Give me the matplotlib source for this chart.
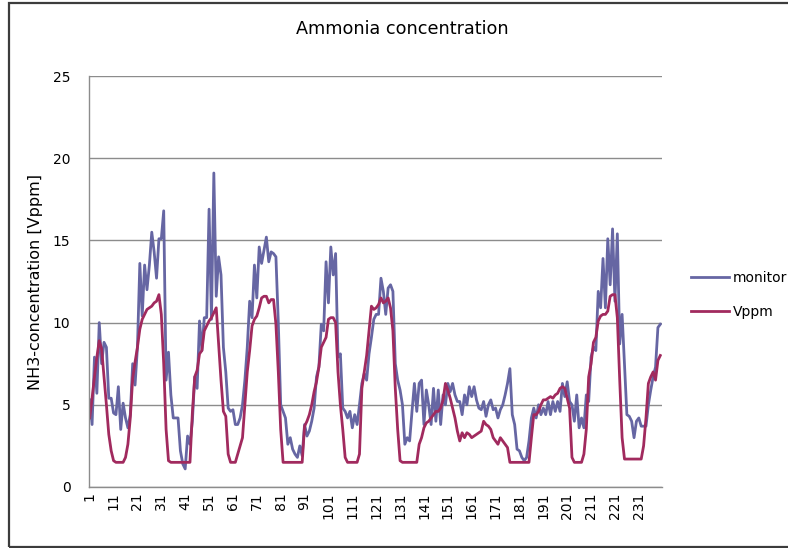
import numpy as np
import matplotlib.pyplot as plt
from matplotlib.patches import Rectangle

# hourly readings, 10 days
monitor = [
    5.3, 3.8, 7.9, 5.7, 10.0, 7.5, 8.8, 8.5, 5.4, 5.4,
    4.5, 4.4, 6.1, 3.5, 5.1, 4.2, 3.6, 4.4, 7.5, 6.2,
    8.5, 13.6, 10.4, 13.5, 12.0, 13.5, 15.5, 14.3, 12.7, 15.1,
    15.1, 16.8, 6.5, 8.2, 5.6, 4.2, 4.2, 4.2, 2.2, 1.4,
    1.1, 3.1, 2.6, 4.0, 6.7, 6.0, 10.1, 8.3, 10.3, 10.3,
    16.9, 10.2, 19.1, 11.6, 14.0, 12.9, 8.5, 7.0, 4.8, 4.6,
    4.7, 3.8, 3.8, 4.2, 5.0, 6.5, 8.5, 11.3, 10.3, 13.5,
    11.5, 14.6, 13.6, 14.4, 15.2, 13.7, 14.3, 14.2, 14.0, 10.0,
    5.0, 4.6, 4.2, 2.6, 3.0, 2.3, 2.0, 1.8, 2.5, 1.9,
    3.8, 3.1, 3.4, 4.0, 4.8, 6.7, 7.3, 9.9, 9.5, 13.7,
    11.2, 14.6, 12.9, 14.2, 7.9, 8.1, 4.8, 4.6, 4.2, 4.6,
    3.6, 4.4, 3.8, 5.0, 6.3, 6.9, 6.5, 8.1, 9.1, 10.2,
    10.5, 10.5, 12.7, 11.9, 10.5, 12.1, 12.3, 11.9, 7.5, 6.5,
    5.9, 5.0, 2.6, 3.0, 2.8, 4.6, 6.3, 4.6, 6.3, 6.5,
    3.8, 5.9, 5.0, 3.8, 6.0, 4.0, 5.9, 3.8, 5.6, 5.0,
    6.3, 5.8, 6.3, 5.6, 5.2, 5.2, 4.4, 5.6, 5.0, 6.1,
    5.5, 6.1, 5.3, 4.8, 4.7, 5.2, 4.3, 5.0, 5.3, 4.7,
    4.8, 4.2, 4.7, 5.0, 5.6, 6.3, 7.2, 4.4, 3.8, 2.3,
    2.2, 1.8, 1.6, 1.8, 2.8, 4.2, 4.8, 4.2, 5.0, 4.4,
    4.8, 4.4, 5.2, 4.4, 5.2, 4.6, 5.2, 4.6, 6.3, 5.5,
    6.4, 5.2, 5.0, 4.0, 5.6, 3.6, 4.2, 3.6, 5.6, 5.2,
    7.9, 8.5, 8.3, 11.9, 10.9, 13.9, 10.9, 15.1, 12.3, 15.7,
    11.3, 15.4, 8.7, 10.5, 7.5, 4.4, 4.3, 4.0, 3.0, 4.0,
    4.2, 3.7, 3.7, 3.7, 5.0, 5.9, 6.7, 7.3, 9.7, 9.9,
]
vppm = [
    4.2, 5.4, 6.7, 7.9, 8.9, 8.4, 6.7, 5.0, 3.2, 2.2,
    1.6, 1.5, 1.5, 1.5, 1.5, 1.8, 2.6, 4.2, 6.6, 7.6,
    8.5, 9.6, 10.2, 10.5, 10.8, 10.9, 11.0, 11.2, 11.3, 11.7,
    10.5, 7.5, 3.5, 1.6, 1.5, 1.5, 1.5, 1.5, 1.5, 1.5,
    1.5, 1.5, 1.5, 4.5, 6.7, 7.1, 8.1, 8.3, 9.5, 9.8,
    10.1, 10.3, 10.6, 10.9, 8.7, 6.5, 4.6, 4.3, 2.0, 1.5,
    1.5, 1.5, 2.0, 2.5, 3.0, 5.0, 7.0, 8.3, 9.8, 10.2,
    10.4, 10.9, 11.5, 11.6, 11.6, 11.2, 11.4, 11.4, 9.9, 7.0,
    3.5, 1.5, 1.5, 1.5, 1.5, 1.5, 1.5, 1.5, 1.5, 1.5,
    3.7, 4.0, 4.4, 5.0, 5.8, 6.4, 7.3, 8.5, 8.8, 9.1,
    10.2, 10.3, 10.3, 10.0, 7.0, 5.0, 3.5, 1.8, 1.5, 1.5,
    1.5, 1.5, 1.5, 2.0, 6.0, 7.0, 8.0, 9.5, 11.0, 10.8,
    10.9, 11.1, 11.5, 11.2, 11.3, 11.5, 10.9, 9.5, 6.0, 3.5,
    1.6, 1.5, 1.5, 1.5, 1.5, 1.5, 1.5, 1.5, 2.6, 3.0,
    3.6, 3.9, 4.0, 4.2, 4.4, 4.6, 4.6, 4.8, 5.3, 6.3,
    5.9, 5.4, 4.8, 4.2, 3.4, 2.8, 3.3, 3.0, 3.3, 3.2,
    3.0, 3.1, 3.2, 3.3, 3.4, 4.0, 3.8, 3.7, 3.5, 3.0,
    2.8, 2.6, 3.0, 2.8, 2.6, 2.4, 1.5, 1.5, 1.5, 1.5,
    1.5, 1.5, 1.5, 1.5, 1.5, 3.0, 4.4, 4.4, 4.6, 5.0,
    5.3, 5.3, 5.4, 5.5, 5.4, 5.6, 5.7, 6.0, 6.1, 6.0,
    5.4, 4.8, 1.8, 1.5, 1.5, 1.5, 1.5, 2.0, 3.5, 6.7,
    7.5, 8.8, 9.1, 10.1, 10.4, 10.5, 10.5, 10.7, 11.6, 11.7,
    11.7, 10.3, 6.5, 3.0, 1.7, 1.7, 1.7, 1.7, 1.7, 1.7,
    1.7, 1.7, 2.5, 4.2, 6.3, 6.7, 7.0, 6.5, 7.7, 8.0,
]
hours = np.arange(1, len(monitor) + 1)
tick_hours = list(range(1, 232, 10))

fig = plt.figure(figsize=(7.88, 5.48), dpi=100)
ax = fig.add_axes([88.5 / 788, 1 - 487 / 548, (661.5 - 88.5) / 788, (487 - 76) / 548])

ax.plot(hours, monitor, color='#6666A3', lw=2.0, solid_joinstyle='round', label='monitor')
ax.plot(hours, vppm, color='#A12A5E', lw=2.0, solid_joinstyle='round', label='Vppm')

ax.set_xlim(0.5, len(monitor) + 0.5)
ax.set_ylim(0, 25)
ax.set_yticks(range(0, 26, 5))
ax.set_xticks(tick_hours)
ax.set_xticklabels([str(t) for t in tick_hours], rotation=90)
ax.tick_params(axis='both', length=0, labelsize=10, colors='black')
ax.tick_params(axis='y', pad=13)
ax.tick_params(axis='x', pad=4)
ax.yaxis.grid(True, color='#8C8C8C', lw=1)
ax.set_axisbelow(True)
for s in ['top', 'right']:
    ax.spines[s].set_visible(False)
for s in ['left', 'bottom']:
    ax.spines[s].set_color('#8C8C8C')
    ax.spines[s].set_linewidth(1)

ax.set_ylabel('NH3-concentration [Vppm]', fontsize=11.5, labelpad=7)
fig.text(402 / 788, 1 - 29 / 548, 'Ammonia concentration', ha='center', va='center', fontsize=12.7)

ax.legend(loc='center left', bbox_to_anchor=(685 / 788, 1 - 295 / 548), bbox_transform=fig.transFigure,
          frameon=False, fontsize=10, handlelength=2.8, labelspacing=1.4, handletextpad=0.25,
          borderaxespad=0)

# outer chart border (cut off on the right like the source)
fig.add_artist(Rectangle((9 / 788, 1.5 / 548), 1.2, 1 - 4 / 548, transform=fig.transFigure,
                         fill=False, edgecolor='#3C3C3C', lw=1.6))

fig.savefig('out.png', dpi=100)
